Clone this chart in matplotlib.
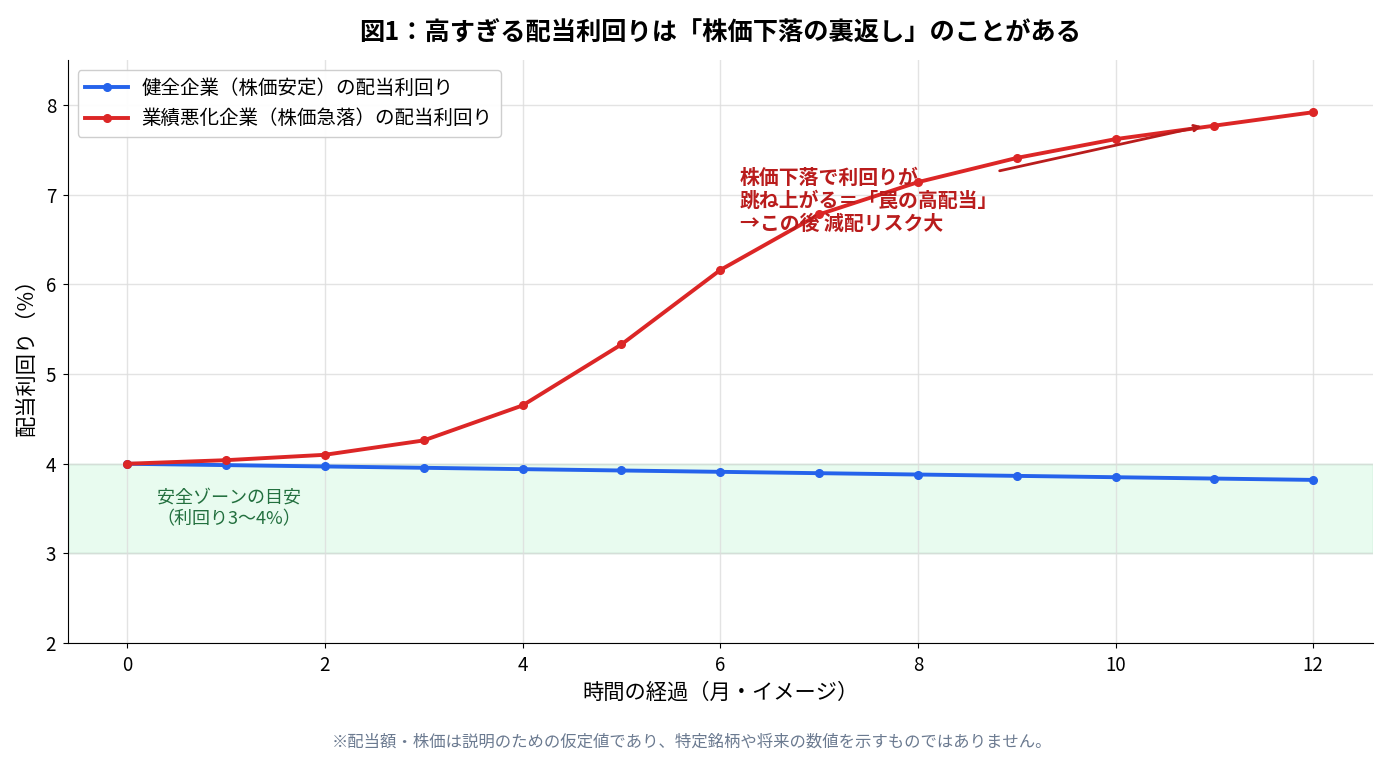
import matplotlib
matplotlib.use("Agg")
import matplotlib.pyplot as plt

plt.rcParams['font.family'] = ['Noto Sans CJK JP', 'DejaVu Sans']

months = list(range(13))
healthy_yield = [4.00, 3.985, 3.97, 3.955, 3.94, 3.925, 3.91, 3.895, 3.88, 3.865, 3.85, 3.835, 3.82]
falling_yield = [4.00, 4.04, 4.10, 4.26, 4.65, 5.33, 6.16, 6.78, 7.14, 7.41, 7.62, 7.77, 7.92]

safe_low, safe_high = 3, 4
x_ticks = [0, 2, 4, 6, 8, 10, 12]
y_ticks = [2, 3, 4, 5, 6, 7, 8]

BLUE = "#2563eb"
RED = "#dc2626"
DARK_RED = "#b91c1c"

fig, ax = plt.subplots(figsize=(13.85, 7.62), dpi=100)
fig.subplots_adjust(left=0.049, right=0.991, top=0.921, bottom=0.156)

# safe zone band
ax.axhspan(safe_low, safe_high, facecolor="#e8fbef", edgecolor="#b9e5c8", linewidth=1, zorder=0)
ax.text(1.03, 3.5, "安全ゾーンの目安\n（利回り3〜4%）", ha="center", va="center",
        fontsize=13, color="#23703f", linespacing=1.3)

ax.plot(months, healthy_yield, color=BLUE, lw=2.8, marker="o", ms=5.5,
        label="健全企業（株価安定）の配当利回り", zorder=3)
ax.plot(months, falling_yield, color=RED, lw=2.8, marker="o", ms=5.5,
        label="業績悪化企業（株価急落）の配当利回り", zorder=3)

ax.annotate("", xy=(10.9, 7.77), xytext=(8.8, 7.26),
            arrowprops=dict(arrowstyle="->", color=DARK_RED, lw=2))
ax.text(6.2, 6.56, "株価下落で利回りが\n跳ね上がる＝「罠の高配当」\n→この後 減配リスク大",
        fontsize=14.3, fontweight="bold", color=DARK_RED, va="bottom", ha="left",
        linespacing=1.12, zorder=4)

ax.set_xlim(-0.6, 12.6)
ax.set_ylim(2, 8.5)
ax.set_xticks(x_ticks)
ax.set_yticks(y_ticks)
ax.tick_params(labelsize=13.5, pad=5)
ax.grid(True, color="#dddddd", lw=1, alpha=0.8)
ax.set_axisbelow(True)
for side in ("top", "right"):
    ax.spines[side].set_visible(False)

ax.set_xlabel("時間の経過（月・イメージ）", fontsize=15.3, labelpad=4)
ax.set_ylabel("配当利回り（%）", fontsize=15.3, labelpad=6)
ax.set_title("図1：高すぎる配当利回りは「株価下落の裏返し」のことがある",
             fontsize=18.2, fontweight="bold", pad=14)

ax.legend(loc="upper left", fontsize=14, framealpha=0.95, handlelength=2.2,
          handletextpad=0.7, borderaxespad=0.5)

fig.text(0.5, 0.02, "※配当額・株価は説明のための仮定値であり、特定銘柄や将来の数値を示すものではありません。",
         ha="center", fontsize=11.8, color="#6b7a90")

fig.savefig("out.png", dpi=100)
